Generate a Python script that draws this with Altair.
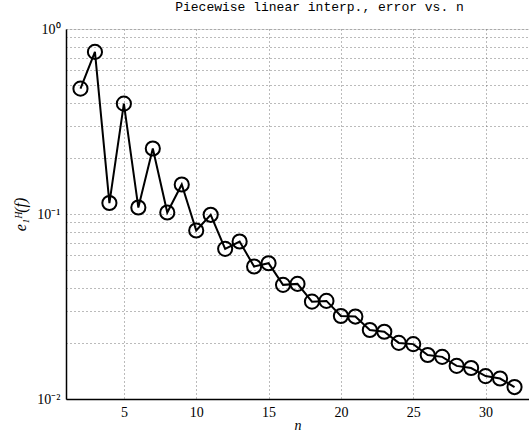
import altair as alt
import pandas as pd

n_vals = list(range(2, 33))
err_vals = [0.476, 0.752, 0.1146, 0.395, 0.1084, 0.226, 0.1019, 0.1444, 0.0814,
            0.099, 0.0648, 0.0710, 0.052, 0.0542, 0.0414, 0.0419, 0.0336, 0.0339,
            0.0281, 0.0279, 0.0236, 0.0231, 0.0201, 0.0198, 0.0173, 0.0169, 0.0151,
            0.0147, 0.0133, 0.0129, 0.0116]
x_ticks = [5, 10, 15, 20, 25, 30]
y_ticks = [0.01, 0.02, 0.03, 0.04, 0.05, 0.06, 0.07, 0.08, 0.09,
           0.1, 0.2, 0.3, 0.4, 0.5, 0.6, 0.7, 0.8, 0.9, 1]

df = pd.DataFrame({"n": n_vals, "err": err_vals})

FONT = "Liberation Serif"

x = alt.X("n:Q", scale=alt.Scale(domain=[1, 33], nice=False, zero=False),
          axis=alt.Axis(values=x_ticks, title="n", titleFontStyle="italic",
                        titleFont=FONT, titleFontWeight="normal", titleFontSize=14,
                        titlePadding=-1, labelFont=FONT, labelFontSize=14, labelPadding=6,
                        ticks=False, domainColor="black", domainWidth=1.5,
                        grid=True, gridDash=[1, 3], gridColor="#777777", gridWidth=1,
                        labelColor="black", titleColor="black"))
y = alt.Y("err:Q", scale=alt.Scale(type="log", domain=[0.01, 1], nice=False),
          axis=alt.Axis(values=y_ticks,
                        labelExpr="datum.value == 1 ? '10⁰' : (abs(datum.value - 0.1) < 1e-9 ? '10⁻¹' : (abs(datum.value - 0.01) < 1e-9 ? '10⁻²' : ''))",
                        title="e₁ᴴ(f)", titleFontStyle="italic", titleFont=FONT,
                        titleFontWeight="normal", titleFontSize=16, titlePadding=8,
                        labelFont=FONT, labelFontSize=14, labelPadding=6,
                        ticks=False, domainColor="black", domainWidth=1.5,
                        grid=True, gridDash=[1, 3], gridColor="#777777", gridWidth=1,
                        labelColor="black", titleColor="black", labelOverlap=False))

line = alt.Chart(df).mark_line(color="black", strokeWidth=2).encode(x=x, y=y)
pts = alt.Chart(df).mark_point(shape="circle", filled=False, color="black",
                               size=200, strokeWidth=2, opacity=1).encode(x="n:Q", y="err:Q")

chart = (line + pts).properties(
    width=463, height=370,
    title=alt.TitleParams("Piecewise linear interp., error vs. n", font="Liberation Mono",
                          fontSize=13, fontWeight="normal", color="black",
                          anchor="middle", dx=22, offset=8),
    autosize=alt.AutoSizeParams(type="none"),
    padding={"left": 66, "top": 29, "right": 0, "bottom": 36},
).configure_view(stroke="black", strokeWidth=1.5).configure(background="white")

chart.save("out.html", embed_options={"renderer": "svg", "actions": False})
